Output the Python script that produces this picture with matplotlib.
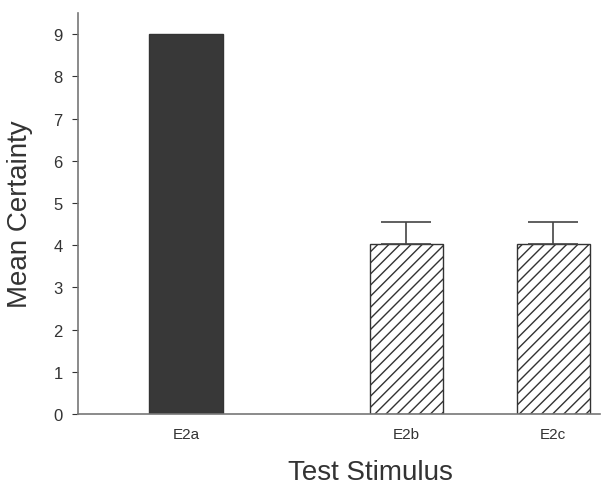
import numpy as np
import matplotlib.pyplot as plt

conditions = ["E2a", "E2b", "E2c"]
positions = [1.0, 2.5, 3.5]
means = [9.0, 4.03, 4.04]
errors = [0.0, 0.52, 0.52]


def main():
    plt.rcParams['font.family'] = ['Liberation Sans', 'DejaVu Sans']
    plt.rcParams['hatch.linewidth'] = 1.0
    plt.rcParams['hatch.color'] = "#444444"

    fig = plt.figure(figsize=(6.1, 4.85), dpi=100)
    ax = fig.add_axes([0.128, 0.144, 0.856, 0.827])

    faces = ["#383838", "white", "white"]
    hatches = [None, "///", "///"]
    for x, m, e, fc, h in zip(positions, means, errors, faces, hatches):
        ax.bar(x, m, width=0.5, color=fc, edgecolor="#333333", linewidth=1.0, hatch=h, zorder=2)
        if e > 0:
            ax.errorbar(x, m, yerr=[[0], [e]], fmt="none", ecolor="#444444",
                        elinewidth=1.2, capsize=18, capthick=1.2, zorder=3)

    ax.set_xlim(0.265, 3.82)
    ax.set_ylim(0, 9.5)
    ax.set_yticks(range(0, 10))
    ax.set_xticks(positions)
    ax.set_xticklabels(conditions)
    ax.tick_params(axis="x", length=0, labelsize=11, pad=9, colors="#333333")
    ax.tick_params(axis="y", length=4, labelsize=12, pad=7, colors="#333333", direction="out")

    for s in ["top", "right"]:
        ax.spines[s].set_visible(False)
    for s in ["left", "bottom"]:
        ax.spines[s].set_color("#777777")
        ax.spines[s].set_linewidth(1.2)

    ax.set_ylabel("Mean Certainty", fontsize=20, color="#333333")
    ax.set_xlabel("Test Stimulus", fontsize=20, color="#333333")
    ax.yaxis.set_label_coords(-0.086, 0.5)
    ax.xaxis.set_label_coords(0.559, -0.112)

    fig.savefig("out.png", dpi=100)


if __name__ == "__main__":
    main()
